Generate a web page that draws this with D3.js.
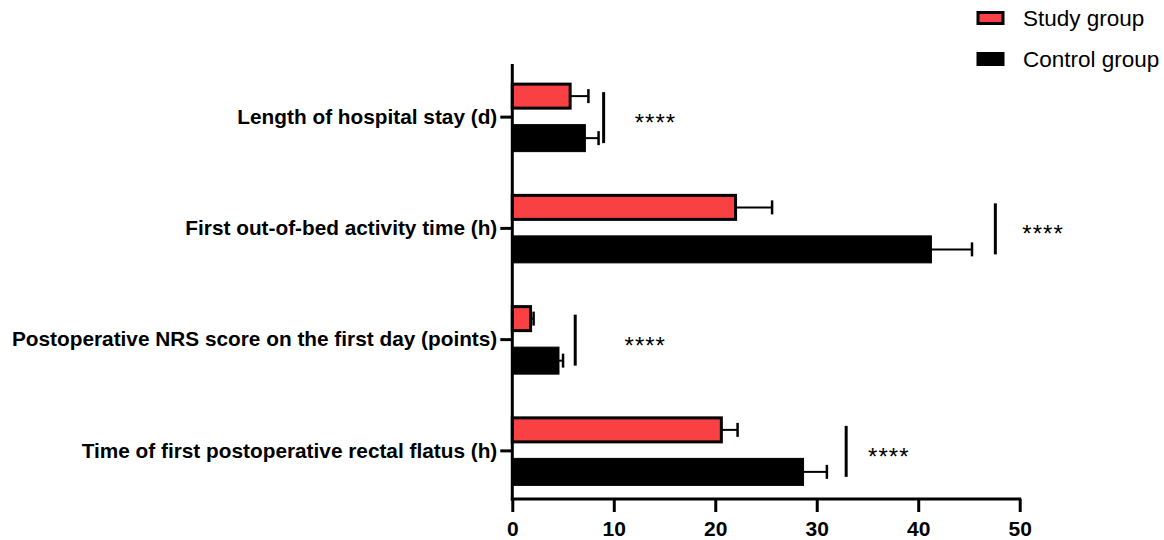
<!DOCTYPE html>
<html><head><meta charset="utf-8">
<script src="https://cdn.jsdelivr.net/npm/d3@7"></script>
<style>body{margin:0;background:#fff}svg{display:block}</style>
</head><body>
<svg id="c" width="1164" height="540"></svg>
<script>
const categories = ["Length of hospital stay (d)","First out-of-bed activity time (h)","Postoperative NRS score on the first day (points)","Time of first postoperative rectal flatus (h)"];
const studyMean = [5.7, 22.0, 1.8, 20.6];
const studySD = [1.8, 3.6, 0.3, 1.6];
const controlMean = [7.2, 41.3, 4.6, 28.7];
const controlSD = [1.3, 4.0, 0.4, 2.3];
const sigX = [9.0, 47.6, 6.2, 32.9];
const starX = [14.1, 52.3, 13.1, 37.1];
const sigText = ["****","****","****","****"];
const xTicks = [0,10,20,30,40,50];
const seriesNames = ["Study group","Control group"];

const RED = "#F94144";
const FONT = "Liberation Sans, Arial, sans-serif";
const svg = d3.select("#c");
const x = d3.scaleLinear().domain([0,50]).range([512.3, 1019.7]);
const y = d3.scaleBand().domain(categories).range([61.5, 506.5]).padding(0);
const cy = d => y(d) + y.bandwidth()/2;
const off = 21, hRed = 24, hCtl = 27;

const g = svg.append("g");
categories.forEach((c,i) => {
  const yc = cy(c);
  g.append("line").attr("x1", x(studyMean[i])).attr("x2", x(studyMean[i]+studySD[i]))
    .attr("y1", yc-off).attr("y2", yc-off).attr("stroke","#000").attr("stroke-width",2);
  g.append("line").attr("x1", x(studyMean[i]+studySD[i])).attr("x2", x(studyMean[i]+studySD[i]))
    .attr("y1", yc-off-7).attr("y2", yc-off+7).attr("stroke","#000").attr("stroke-width",2.5);
  g.append("rect").attr("x", x(0)).attr("y", yc-off-hRed/2).attr("width", x(studyMean[i])-x(0)).attr("height", hRed)
    .attr("fill", RED).attr("stroke","#000").attr("stroke-width",3);
  g.append("line").attr("x1", x(controlMean[i])).attr("x2", x(controlMean[i]+controlSD[i]))
    .attr("y1", yc+off).attr("y2", yc+off).attr("stroke","#000").attr("stroke-width",2);
  g.append("line").attr("x1", x(controlMean[i]+controlSD[i])).attr("x2", x(controlMean[i]+controlSD[i]))
    .attr("y1", yc+off-7).attr("y2", yc+off+7).attr("stroke","#000").attr("stroke-width",2.5);
  g.append("rect").attr("x", x(0)).attr("y", yc+off-hCtl/2).attr("width", x(controlMean[i])-x(0)).attr("height", hCtl)
    .attr("fill", "#000").attr("stroke","#000").attr("stroke-width",1);
  g.append("line").attr("x1", x(sigX[i])).attr("x2", x(sigX[i]))
    .attr("y1", yc-25).attr("y2", yc+26).attr("stroke","#000").attr("stroke-width",3);
  g.append("text").attr("x", x(starX[i])).attr("y", yc+14).attr("text-anchor","middle")
    .attr("font-family",FONT).attr("font-size",24).attr("letter-spacing",1).attr("fill","#000")
    .text(sigText[i]);
});

const yAxis = svg.append("g").attr("transform", `translate(${x(0)},0)`)
  .call(d3.axisLeft(y).tickSize(12).tickPadding(3).tickSizeOuter(0));
yAxis.select(".domain").remove();
yAxis.selectAll(".tick line").attr("stroke","#000").attr("stroke-width",3);
yAxis.selectAll(".tick text").attr("font-family",FONT)
  .attr("font-size",20.8).attr("font-weight","bold").attr("fill","#000");
svg.append("line").attr("x1", x(0)).attr("x2", x(0)).attr("y1", 64).attr("y2", 500.5)
  .attr("stroke","#000").attr("stroke-width",3);

const xAxis = svg.append("g").attr("transform", `translate(0,499)`)
  .call(d3.axisBottom(x).tickValues(xTicks).tickSize(13).tickPadding(9).tickSizeOuter(0));
xAxis.select(".domain").remove();
xAxis.selectAll(".tick line").attr("stroke","#000").attr("stroke-width",3);
xAxis.selectAll(".tick text").attr("font-family",FONT)
  .attr("font-size",21).attr("font-weight","bold").attr("fill","#000");
svg.append("line").attr("x1", x(0)-1.5).attr("x2", x(50)+1.5).attr("y1", 499).attr("y2", 499)
  .attr("stroke","#000").attr("stroke-width",3);

const lg = svg.append("g");
seriesNames.forEach((n,i) => {
  const ly = 18 + i*41;
  lg.append("rect").attr("x", 978).attr("y", ly-5.5).attr("width", 25).attr("height", 11)
    .attr("fill", i===0 ? RED : "#000").attr("stroke","#000").attr("stroke-width",3);
  lg.append("text").attr("x", 1023).attr("y", ly+8).attr("font-family",FONT)
    .attr("font-size",22.5).attr("fill","#000").text(n);
});
</script>
</body></html>
